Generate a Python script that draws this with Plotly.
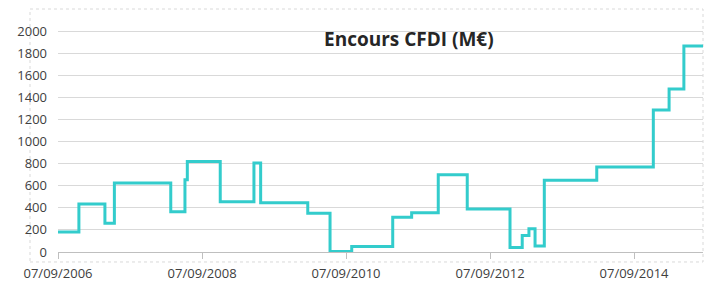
import plotly.graph_objects as go

# Data: step changes of outstanding amount (M€)
dates = ["2006-09-07", "2006-12-22", "2007-05-03", "2007-06-20", "2008-04-01",
         "2008-06-12", "2008-06-24", "2008-12-08", "2009-05-28", "2009-07-01",
         "2010-02-25", "2010-06-18", "2010-10-06", "2011-05-02", "2011-08-06",
         "2011-12-19", "2012-05-14", "2012-12-17", "2013-02-17", "2013-03-23",
         "2013-04-23", "2013-06-09", "2014-03-02", "2014-12-14", "2015-03-04",
         "2015-05-18", "2015-08-23"]
values = [180, 435, 260, 625, 365,
          655, 820, 455, 805, 445,
          350, 5, 50, 315, 355,
          700, 390, 40, 150, 210,
          55, 650, 770, 1285, 1475,
          1865, 1865]

tick_dates = ["2006-09-07", "2008-09-07", "2010-09-07", "2012-09-07", "2014-09-07"]
tick_text = ["07/09/2006", "07/09/2008", "07/09/2010", "07/09/2012", "07/09/2014"]
y_ticks = [0, 200, 400, 600, 800, 1000, 1200, 1400, 1600, 1800, 2000]

W, H = 723, 292
ml, mr, mt, mb = 58, 20, 9, 39.5
pw = W - ml - mr
ph = H - mt - mb

font_family = "Open Sans"
txt_color = "#404040"

fig = go.Figure()
fig.add_trace(go.Scatter(
    x=dates, y=values, mode="lines", line_shape="hv",
    line=dict(color="#33cccc", width=3), showlegend=False, hoverinfo="skip"))

fig.update_layout(
    width=W, height=H,
    margin=dict(l=ml, r=mr, t=mt, b=mb, pad=0),
    paper_bgcolor="white", plot_bgcolor="white",
    font=dict(family=font_family, size=13, color=txt_color),
    xaxis=dict(
        type="date", range=["2006-09-07", "2015-08-23"],
        tickvals=tick_dates, ticktext=tick_text,
        showgrid=False, zeroline=False,
        showline=True, linecolor="#bfbfbf", linewidth=1,
        ticks="outside", ticklen=6, tickcolor="#bfbfbf",
        tickfont=dict(family=font_family, size=13, color=txt_color),
        ticklabelstandoff=3,
    ),
    yaxis=dict(
        range=[0, 2200], tickvals=y_ticks,
        showgrid=True, gridcolor="#d9d9d9", gridwidth=1,
        zeroline=False, showline=False, ticks="",
        tickfont=dict(family=font_family, size=13, color=txt_color),
        ticklabelstandoff=10,
    ),
    annotations=[dict(
        text="<b>Encours CFDI (M€)</b>", xref="paper", yref="paper",
        x=(409 - ml) / pw, y=(H - mb - 39) / ph, xanchor="center", yanchor="middle",
        showarrow=False, font=dict(family=font_family, size=19, color="#262626"))],
    shapes=[dict(
        type="rect", xref="paper", yref="paper",
        x0=(30 - ml) / pw, x1=(703 - ml) / pw,
        y0=(H - mb - 262.5) / ph, y1=(H - mb - 9) / ph,
        line=dict(color="#d9d9d9", width=1, dash="dot"), layer="below")],
)

fig.write_html("out.html")
